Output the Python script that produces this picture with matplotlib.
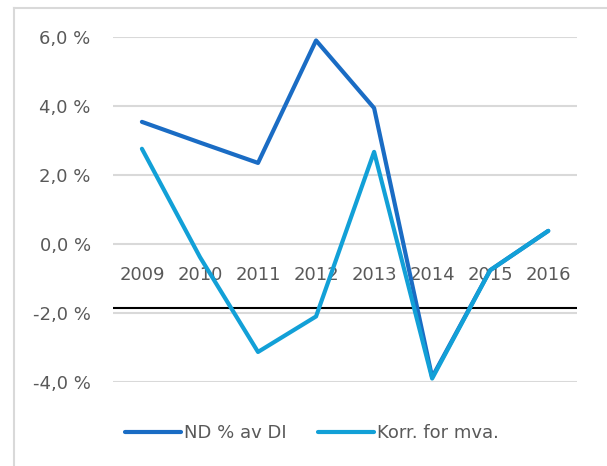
import matplotlib.pyplot as plt
from matplotlib.lines import Line2D

years = ['2009', '2010', '2011', '2012', '2013', '2014', '2015', '2016']
nd_pct = [3.54, 2.94, 2.35, 5.90, 3.94, -3.86, -0.76, 0.38]
korr_mva = [2.76, -0.38, -3.13, -2.10, 2.67, -3.90, -0.76, 0.38]
yticks = [-4, -2, 0, 2, 4, 6]
ytick_labels = ['-4,0 %', '-2,0 %', '0,0 %', '2,0 %', '4,0 %', '6,0 %']

text_col = '#595959'
plt.rcParams['font.family'] = ['DejaVu Sans']

fig = plt.figure(figsize=(6.07, 4.66), dpi=100)
ax = fig.add_axes([0.186, 0.1803, 0.765, 0.7403])

x = list(range(len(years)))
ax.plot(x, nd_pct, color='#1a6cc4', lw=3, solid_capstyle='round', label='ND % av DI')
ax.plot(x, korr_mva, color='#12a0d7', lw=3, solid_capstyle='round', label='Korr. for mva.')

ax.set_xlim(-0.5, len(years) - 0.5)
ax.set_ylim(-4, 6)
ax.set_yticks(yticks)
ax.set_yticklabels(ytick_labels)
ax.tick_params(axis='y', length=0, pad=16, labelsize=13, labelcolor=text_col)
ax.set_xticks([])
for s in ax.spines.values():
    s.set_visible(False)
ax.grid(axis='y', color='#d9d9d9', lw=1.5)
ax.set_axisbelow(True)

# category axis crosses at about -1.87
ax.axhline(-1.87, color='black', lw=1.5, zorder=1.5)
for xi, yr in zip(x, years):
    ax.text(xi, -0.9, yr, ha='center', va='center', fontsize=13, color=text_col, zorder=1)

fig.legend(loc='center', bbox_to_anchor=(0.514, 0.071), ncol=2, frameon=False,
           fontsize=13, labelcolor=text_col, handlelength=3.1, handletextpad=0.2,
           columnspacing=1.7)

# chart border
fig.add_artist(Line2D([14 / 607, 14 / 607], [0, 1 - 8 / 466], color='#d9d9d9', lw=1.5))
fig.add_artist(Line2D([14 / 607, 1], [1 - 8 / 466, 1 - 8 / 466], color='#d9d9d9', lw=1.5))

fig.savefig('out.png', dpi=100)
